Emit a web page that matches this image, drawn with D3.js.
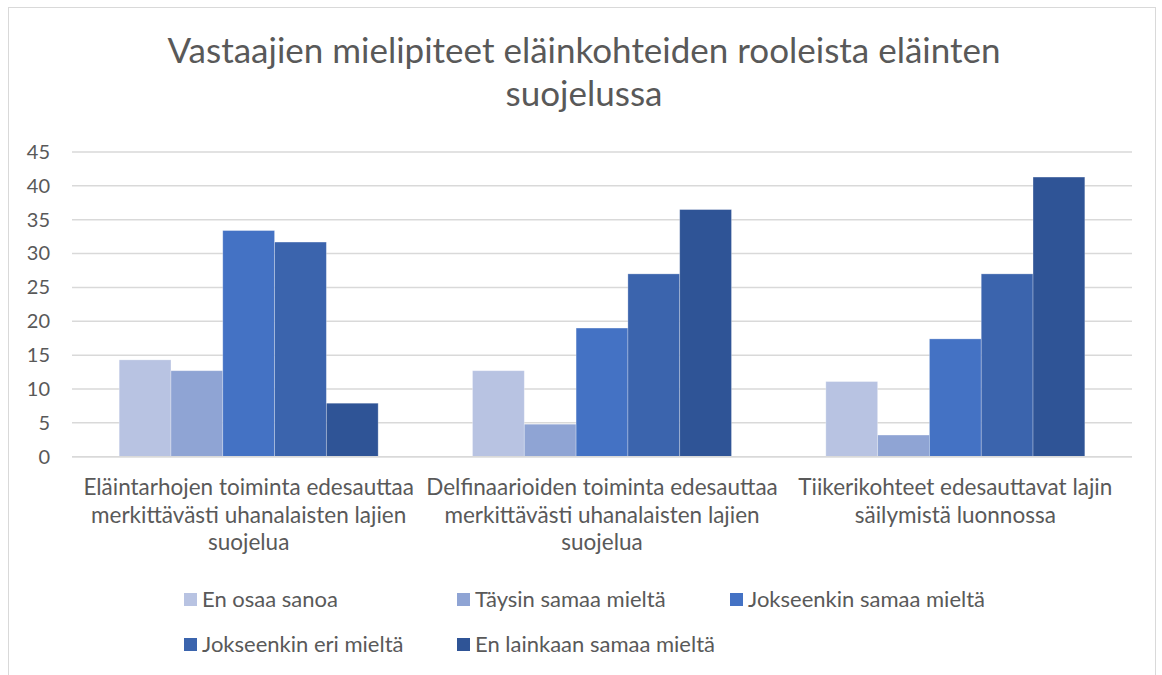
<!DOCTYPE html>
<html>
<head>
<meta charset="utf-8">
<script src="https://cdn.jsdelivr.net/npm/d3@7"></script>
<style>
  body { margin: 0; background: #fff; }
  svg { font-family: Lato, "Open Sans", sans-serif; }
</style>
</head>
<body>
<div id="chart"></div>
<script>
var title = "Vastaajien mielipiteet eläinkohteiden rooleista eläinten suojelussa";

var categories = [
  "Eläintarhojen toiminta edesauttaa merkittävästi uhanalaisten lajien suojelua",
  "Delfinaarioiden toiminta edesauttaa merkittävästi uhanalaisten lajien suojelua",
  "Tiikerikohteet edesauttavat lajin säilymistä luonnossa"
];

var seriesNames = [
  "En osaa sanoa",
  "Täysin samaa mieltä",
  "Jokseenkin samaa mieltä",
  "Jokseenkin eri mieltä",
  "En lainkaan samaa mieltä"
];

// one array per series, in category order
var enOsaa      = [14.3, 12.7, 11.1];
var taysin      = [12.7, 4.8, 3.2];
var jokSamaa    = [33.4, 19.0, 17.4];
var jokEri      = [31.7, 27.0, 27.0];
var enLainkaan  = [7.9, 36.5, 41.3];

var yTicks = [0, 5, 10, 15, 20, 25, 30, 35, 40, 45];

var colors = ["#B8C3E2", "#8FA4D4", "#4472C4", "#3B64AD", "#2F5496"];

var seriesValues = [enOsaa, taysin, jokSamaa, jokEri, enLainkaan];

var W = 1162, H = 675;
var plot = { left: 72, right: 1132, top: 152, bottom: 456.7 };
var textColor = "#595959";

var svg = d3.select("#chart").append("svg")
    .attr("width", W).attr("height", H);

// chart frame
svg.append("rect")
    .attr("x", 8.5).attr("y", 7.5)
    .attr("width", 1147).attr("height", 700)
    .attr("fill", "#fff")
    .attr("stroke", "#D9D9D9").attr("stroke-width", 1);

// wrap a string into lines no wider than maxW
function wrapLines(str, maxW, fontSize) {
  var tmp = svg.append("text").attr("font-size", fontSize).attr("visibility", "hidden");
  var words = str.split(" "), lines = [], line = [];
  for (var i = 0; i < words.length; i++) {
    line.push(words[i]);
    tmp.text(line.join(" "));
    if (tmp.node().getComputedTextLength() > maxW && line.length > 1) {
      line.pop();
      lines.push(line.join(" "));
      line = [words[i]];
    }
  }
  lines.push(line.join(" "));
  tmp.remove();
  return lines;
}

// title
var titleLines = wrapLines(title, 900, 35);
svg.append("text")
    .attr("text-anchor", "middle")
    .attr("font-size", 35)
    .attr("fill", textColor)
    .selectAll("tspan").data(titleLines).enter().append("tspan")
    .attr("x", 584)
    .attr("y", function(d, i) { return 63 + i * 43; })
    .text(function(d) { return d; });

var y = d3.scaleLinear().domain([0, 45]).range([plot.bottom, plot.top]);

var x0 = d3.scaleBand().domain(categories)
    .range([plot.left, plot.right])
    .paddingInner(0.267).paddingOuter(0.1335);

var x1 = d3.scaleBand().domain(d3.range(seriesNames.length))
    .range([0, x0.bandwidth()]);

// gridlines
svg.append("g").selectAll("line").data(yTicks).enter().append("line")
    .attr("x1", plot.left).attr("x2", plot.right)
    .attr("y1", function(d) { return y(d); })
    .attr("y2", function(d) { return y(d); })
    .attr("stroke", "#D9D9D9").attr("stroke-width", 1.5);

// y axis labels
var yAxis = d3.axisLeft(y).tickValues(yTicks).tickSize(0).tickPadding(0);
var yg = svg.append("g").attr("transform", "translate(50,0)").call(yAxis);
yg.select(".domain").remove();
yg.selectAll("text")
    .attr("font-family", "Lato, sans-serif")
    .attr("font-size", 20)
    .attr("fill", textColor);

// bars
var rows = [];
categories.forEach(function(c, ci) {
  seriesValues.forEach(function(vals, si) {
    rows.push({ cat: c, s: si, v: vals[ci] });
  });
});

svg.append("g").selectAll("rect").data(rows).enter().append("rect")
    .attr("x", function(d) { return x0(d.cat) + x1(d.s); })
    .attr("y", function(d) { return y(d.v); })
    .attr("width", x1.bandwidth())
    .attr("height", function(d) { return y(0) - y(d.v); })
    .attr("fill", function(d) { return colors[d.s]; })
    .attr("stroke", "#fff").attr("stroke-opacity", 0.35).attr("stroke-width", 0.8);

// baseline
svg.append("line")
    .attr("x1", plot.left).attr("x2", plot.right)
    .attr("y1", y(0)).attr("y2", y(0))
    .attr("stroke", "#D9D9D9").attr("stroke-width", 1.5);

// category labels
categories.forEach(function(c) {
  var lines = wrapLines(c, 362, 22.5);
  svg.append("text")
      .attr("text-anchor", "middle")
      .attr("font-size", 22.5)
      .attr("fill", textColor)
      .selectAll("tspan").data(lines).enter().append("tspan")
      .attr("x", x0(c) + x0.bandwidth() / 2)
      .attr("y", function(d, i) { return 495 + i * 27.5; })
      .text(function(d) { return d; });
});

// legend
var legendPos = [[184, 600], [457, 600], [730, 600], [184, 645], [457, 645]];
var leg = svg.append("g").selectAll("g").data(seriesNames).enter().append("g")
    .attr("transform", function(d, i) { return "translate(" + legendPos[i][0] + "," + legendPos[i][1] + ")"; });
leg.append("rect")
    .attr("x", 0).attr("y", -7).attr("width", 13).attr("height", 13)
    .attr("fill", function(d, i) { return colors[i]; });
leg.append("text")
    .attr("x", 18).attr("y", 7)
    .attr("font-size", 22)
    .attr("fill", textColor)
    .text(function(d) { return d; });
</script>
</body>
</html>
